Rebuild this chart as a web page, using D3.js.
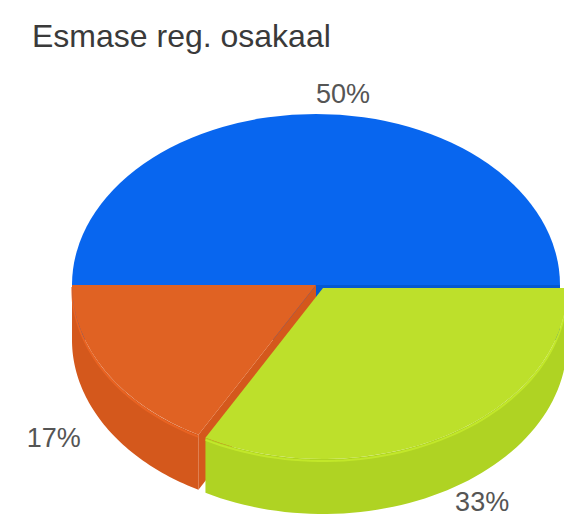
<!DOCTYPE html>
<html>
<head>
<meta charset="utf-8">
<script src="https://cdn.jsdelivr.net/npm/d3@7"></script>
<style>
  body { margin: 0; background: #fff; }
  svg { display: block; }
</style>
</head>
<body>
<div id="chart"></div>
<script>
// chart data
const title = 'Esmase reg. osakaal';
const categories = ['A', 'B', 'C'];
const values = [50, 33, 17];
const colors = ['#0866ef', '#bde02b', '#e06223'];
const wallColors = ['#0558d0', '#afd323', '#d4581c'];

const width = 564, height = 516;
const cx = 316, cy = 285;   // centre of the top face
const rx = 244, ry = 171;   // ellipse radii
const depth = 55;           // thickness of the pie

const svg = d3.select('#chart')
  .append('svg')
  .attr('width', width)
  .attr('height', height);

// title
svg.append('text')
  .attr('x', 32)
  .attr('y', 47)
  .style('font-family', 'Liberation Sans, Arial, sans-serif')
  .style('font-size', '32px')
  .style('fill', '#3a3a3a')
  .text(title);

const total = d3.sum(values);
const pie = d3.pie()
  .sort(null)
  .startAngle(-Math.PI / 2)
  .endAngle(3 * Math.PI / 2);
const arcs = pie(values).map((d, i) => Object.assign(d, {i: i}));

// screen angle (0 = right, clockwise) from d3 angle (0 = up)
const scr = a => a - Math.PI / 2;
const px = a => cx + Math.cos(scr(a)) * rx;
const py = a => cy + Math.sin(scr(a)) * ry;

const arcGen = d3.arc().innerRadius(0).outerRadius(rx);

const wallArea = d3.area()
  .x(a => px(a))
  .y0(a => py(a))
  .y1(a => py(a) + depth);

// small explode for the green slice
const offsets = [[0, 0], [7, 3], [0, 0]];

// draw back to front: blue, orange, green
const order = [0, 2, 1];

order.forEach(i => {
  const d = arcs[i];
  const g = svg.append('g')
    .attr('transform', `translate(${offsets[i][0]},${offsets[i][1]})`);

  // radial side faces that face the viewer
  [d.startAngle, d.endAngle].forEach((a, k) => {
    const s = scr(a);
    const n = k === 0 ? s - Math.PI / 2 : s + Math.PI / 2;
    if (Math.sin(n) > 0.01) {
      const pts = [[cx, cy], [px(a), py(a)], [px(a), py(a) + depth], [cx, cy + depth]];
      g.append('path')
        .attr('d', d3.line()(pts) + 'Z')
        .attr('fill', wallColors[i]);
    }
  });

  // outer wall for the part in the front half
  const a0 = Math.max(d.startAngle, Math.PI / 2);
  const a1 = Math.min(d.endAngle, 3 * Math.PI / 2);
  if (a1 > a0) {
    const samples = d3.range(0, 61).map(k => a0 + (a1 - a0) * k / 60);
    g.append('path')
      .attr('d', wallArea(samples))
      .attr('fill', wallColors[i]);
    // thin highlight along the top rim
    g.append('path')
      .attr('d', d3.line().x(a => px(a)).y(a => py(a) + 2)(samples))
      .attr('fill', 'none')
      .attr('stroke', d3.color(colors[i]).brighter(0.25))
      .attr('stroke-width', 2)
      .attr('opacity', 0.6);
  }

  // top face
  g.append('path')
    .attr('transform', `translate(${cx},${cy}) scale(1,${ry / rx})`)
    .attr('d', arcGen(d))
    .attr('fill', colors[i]);
});

// percentage labels
const labelK = 1.12;
svg.selectAll('text.lbl')
  .data(arcs)
  .join('text')
  .attr('class', 'lbl')
  .each(function(d) {
    const m = scr((d.startAngle + d.endAngle) / 2);
    const c = Math.cos(m), s = Math.sin(m);
    d3.select(this)
      .attr('x', cx + c * rx * labelK)
      .attr('y', Math.min(cy + s * ry * labelK + (s > 0 ? depth : 0), height - 14))
      .attr('text-anchor', c >= -0.01 ? 'start' : 'end');
  })
  .attr('dy', '0.35em')
  .style('font-family', 'Liberation Sans, Arial, sans-serif')
  .style('font-size', '27px')
  .style('fill', '#555')
  .text(d => Math.round(d.value / total * 100) + '%');
</script>
</body>
</html>
